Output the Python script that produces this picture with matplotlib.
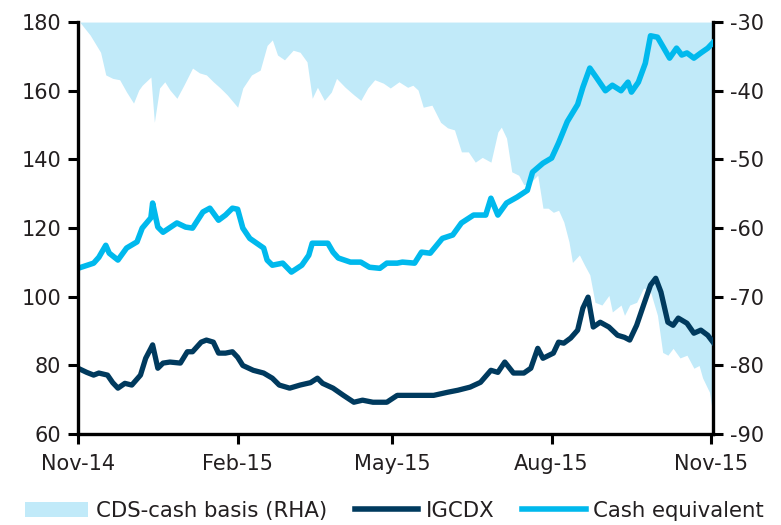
import numpy as np
import pandas as pd
import matplotlib
matplotlib.use('Agg')
import matplotlib.pyplot as plt
from matplotlib.patches import Patch
from matplotlib.lines import Line2D

plt.rcParams['font.family'] = ['DejaVu Sans']
plt.rcParams['axes.unicode_minus'] = False

# --- data (days since 2014-11-01) ---
start = pd.Timestamp('2014-11-01')

cash_days = [0, 9, 12, 16, 18, 23, 28, 34, 37, 42, 43, 46, 49, 57, 62, 66, 72, 76, 81, 85,
             89, 92, 95, 99, 103, 107, 109, 112, 118, 123, 129, 133, 135, 141, 144, 147, 150,
             157, 163, 168, 174, 178, 184, 187, 194, 198, 203, 210, 216, 221, 228, 235, 238,
             242, 247, 253, 259, 262, 268, 273, 277, 282, 288, 291, 295, 299, 304, 308, 313,
             317, 319, 323, 327, 330, 334, 337, 341, 345, 348, 351, 355, 359, 363, 366]
cash_vals = [108.3, 109.8, 111.5, 115.0, 112.7, 110.7, 114.2, 116.0, 120.0, 123.0, 127.3,
             120.3, 118.8, 121.5, 120.3, 120.0, 124.7, 125.8, 122.3, 123.8, 125.8, 125.5,
             120.0, 117.0, 115.6, 114.2, 110.7, 109.2, 109.8, 107.2, 109.2, 112.1, 115.6,
             115.6, 115.6, 113.0, 111.3, 110.1, 110.1, 108.6, 108.3, 109.8, 109.8, 110.1,
             109.8, 113.0, 112.7, 117.0, 118.0, 121.5, 123.8, 123.8, 128.7, 123.8, 127.3,
             129.0, 131.0, 136.3, 138.9, 140.4, 144.8, 151.0, 156.0, 161.0, 166.6, 163.7,
             160.0, 161.6, 160.0, 162.5, 159.6, 162.5, 168.0, 176.0, 175.6, 173.0, 169.5,
             172.4, 170.4, 171.0, 169.5, 171.0, 172.4, 174.0]

ig_days = [0, 5, 9, 12, 17, 20, 23, 27, 31, 36, 39, 42, 43, 46, 49, 53, 59, 63, 66, 71, 74,
           78, 81, 85, 89, 92, 95, 101, 107, 112, 116, 122, 128, 134, 138, 141, 147, 153,
           159, 164, 170, 178, 184, 187, 195, 205, 213, 219, 226, 232, 238, 242, 246, 251,
           257, 261, 265, 268, 274, 277, 280, 284, 288, 291, 294, 297, 301, 306, 311, 315,
           318, 322, 326, 330, 333, 336, 340, 343, 346, 351, 355, 359, 363, 366]
ig_vals = [79.2, 78.0, 77.2, 77.8, 77.2, 75.0, 73.4, 74.8, 74.3, 77.2, 82.1, 85.0, 86.0,
           79.2, 80.7, 81.0, 80.7, 84.0, 84.0, 86.8, 87.4, 86.8, 83.6, 83.6, 84.0, 82.4,
           80.0, 78.6, 77.8, 76.3, 74.3, 73.4, 74.3, 75.0, 76.3, 74.8, 73.4, 71.3, 69.3,
           69.9, 69.3, 69.3, 71.3, 71.3, 71.3, 71.3, 72.2, 72.8, 73.7, 75.1, 78.6, 78.0,
           81.0, 77.8, 77.8, 79.2, 85.0, 82.1, 83.6, 86.8, 86.5, 88.0, 90.3, 96.7, 99.9,
           91.2, 92.6, 91.2, 88.8, 88.2, 87.4, 91.7, 97.6, 103.4, 105.4, 101.4, 92.6, 91.7,
           93.8, 92.3, 89.4, 90.3, 88.8, 86.8]

basis_days = [0, 1, 7, 13, 16, 20, 24, 28, 32, 35, 37, 42, 44, 47, 50, 53, 57, 61, 66, 70,
              74, 78, 82, 86, 92, 95, 100, 105, 109, 112, 115, 119, 124, 128, 132, 135, 138,
              142, 146, 149, 154, 159, 163, 167, 171, 176, 180, 185, 190, 193, 196, 199, 204,
              209, 213, 217, 221, 225, 229, 233, 238, 242, 244, 247, 250, 254, 257, 261, 265,
              268, 271, 274, 277, 280, 283, 285, 289, 292, 295, 298, 302, 306, 308, 313, 315,
              318, 322, 326, 330, 334, 337, 340, 343, 347, 351, 355, 358, 360, 364, 366]
basis_vals = [-30.0, -30.0, -31.9, -34.4, -37.7, -38.2, -38.4, -40.2, -41.8, -39.9, -39.2,
              -38.0, -44.6, -39.6, -38.7, -39.9, -41.1, -39.2, -36.7, -37.4, -37.7, -38.7,
              -39.6, -40.6, -42.4, -39.6, -37.7, -37.0, -33.4, -32.6, -34.8, -35.5, -34.1,
              -34.4, -35.8, -41.1, -39.5, -41.4, -40.2, -38.2, -39.5, -40.6, -41.4, -39.6,
              -38.4, -38.9, -39.6, -38.7, -39.5, -39.2, -39.9, -42.4, -42.1, -44.6, -45.4,
              -45.7, -48.9, -48.9, -50.4, -49.7, -50.4, -46.0, -45.3, -46.9, -51.8, -52.3,
              -53.7, -53.3, -52.3, -57.1, -57.1, -57.7, -57.4, -59.1, -62.0, -65.0, -63.9,
              -65.4, -66.8, -70.8, -71.2, -69.8, -72.2, -71.2, -72.7, -71.2, -70.8, -68.7,
              -69.3, -72.7, -78.1, -78.5, -77.5, -78.9, -78.5, -80.4, -80.0, -81.8, -83.9,
              -87.2]

tick_dates = ['2014-11-01', '2015-02-01', '2015-05-01', '2015-08-01', '2015-11-01']
tick_labels = ['Nov-14', 'Feb-15', 'May-15', 'Aug-15', 'Nov-15']

# colours
c_fill = '#c1eaf9'
c_ig = '#003a5e'
c_cash = '#00b9ed'
c_text = '#231f20'

cash_x = start + pd.to_timedelta(cash_days, unit='D')
ig_x = start + pd.to_timedelta(ig_days, unit='D')
basis_x = start + pd.to_timedelta(basis_days, unit='D')

fig = plt.figure(figsize=(7.81, 5.25), dpi=100)
ax = fig.add_axes([0.0999, 0.173, 0.813, 0.785])
ax2 = ax.twinx()

# fill on the right axis, behind the lines
ax2.fill_between(basis_x, basis_vals, -30, color=c_fill, linewidth=0)
ax2.set_ylim(-90, -30)
ax2.set_yticks(np.arange(-90, -29, 10))

ax.plot(ig_x, ig_vals, color=c_ig, lw=3.8, solid_joinstyle='round')
ax.plot(cash_x, cash_vals, color=c_cash, lw=4.0, solid_joinstyle='round')
ax.set_ylim(60, 180)
ax.set_yticks(np.arange(60, 181, 20))
ax.set_zorder(ax2.get_zorder() + 1)
ax.patch.set_visible(False)

ax.set_xlim(start, start + pd.Timedelta(days=366))
ax.set_xticks(pd.to_datetime(tick_dates))
ax.set_xticklabels(tick_labels)

for a in (ax, ax2):
    a.spines['top'].set_visible(False)
    for s in ('left', 'right', 'bottom'):
        a.spines[s].set_linewidth(2.4)
        a.spines[s].set_color('black')
    a.tick_params(axis='both', direction='out', length=7, width=2.2, labelsize=15,
                  labelcolor=c_text, pad=5)
ax.tick_params(axis='x', pad=7)
ax.spines['right'].set_visible(False)
ax2.spines['left'].set_visible(False)
ax2.spines['bottom'].set_visible(False)

handles = [Patch(facecolor=c_fill, edgecolor='none'),
           Line2D([0], [0], color=c_ig, lw=4),
           Line2D([0], [0], color=c_cash, lw=4)]
labels = ['CDS-cash basis (RHA)', 'IGCDX', 'Cash equivalent']
fig.legend(handles, labels, loc='lower center', bbox_to_anchor=(0.505, -0.028), ncol=3,
           frameon=False, fontsize=15.3, handlelength=3.0, handletextpad=0.35,
           columnspacing=1.3, labelcolor=c_text)

fig.savefig('out.png', dpi=100)
